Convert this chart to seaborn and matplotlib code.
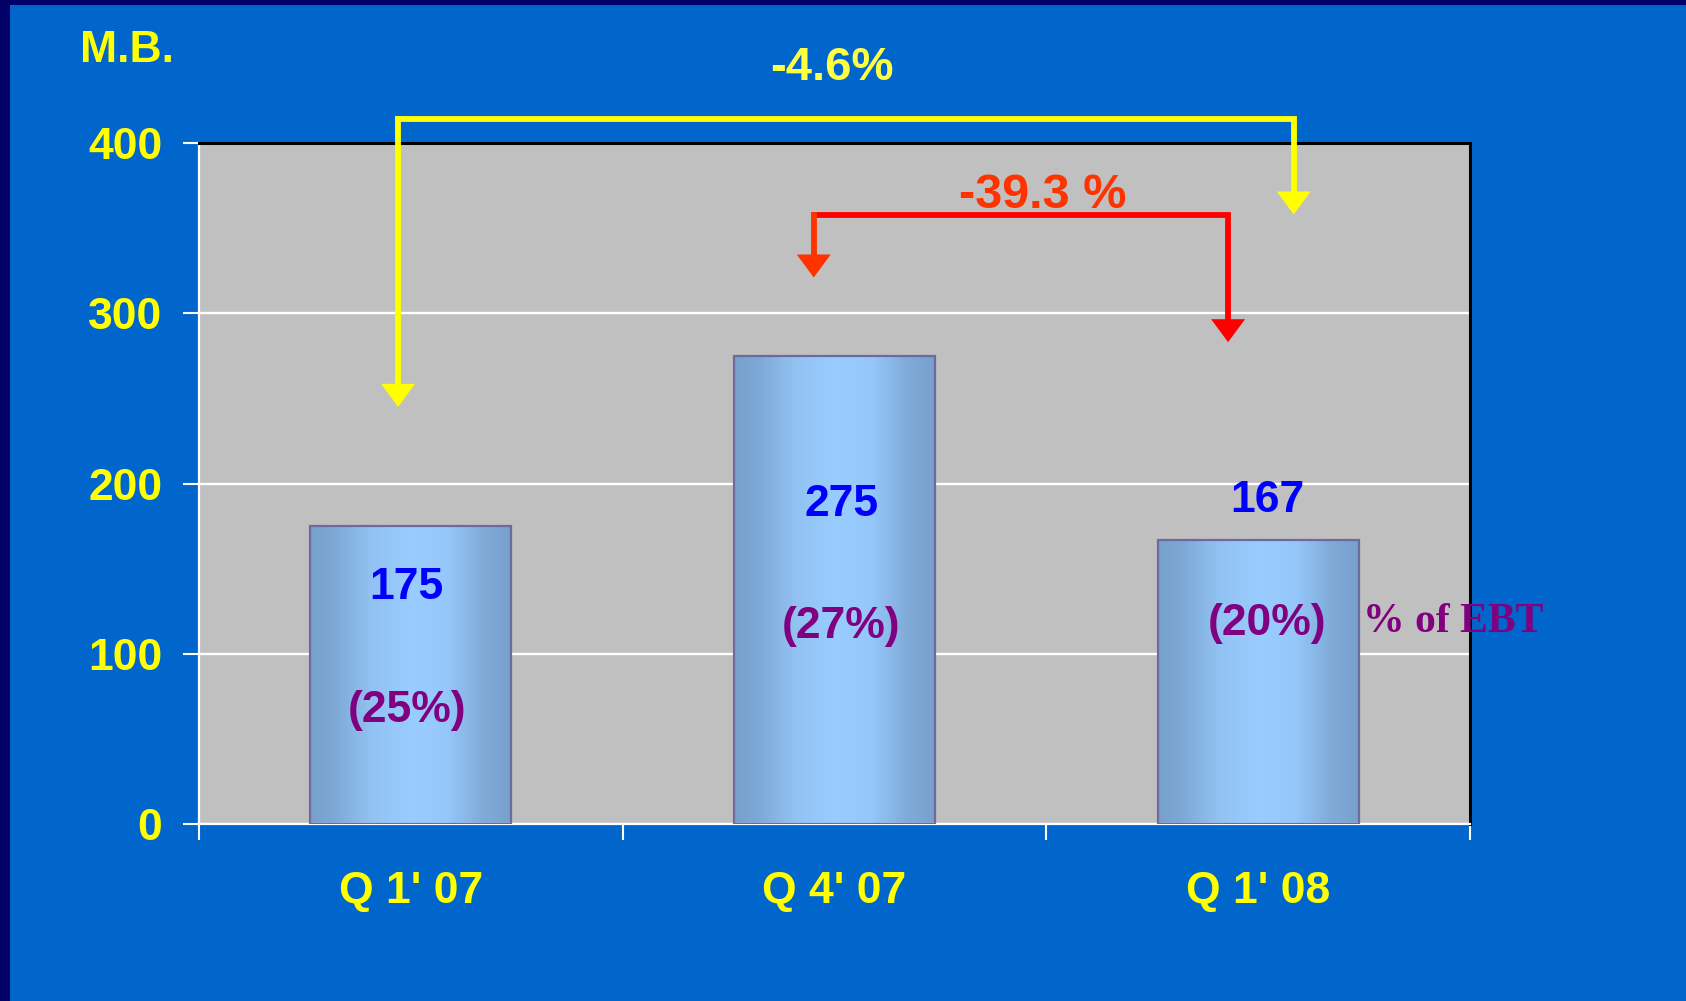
import numpy as np
import pandas as pd
import matplotlib
matplotlib.use("Agg")
import matplotlib.pyplot as plt
import seaborn as sns
from matplotlib.colors import LinearSegmentedColormap
from matplotlib.patches import Rectangle, Polygon
from matplotlib.transforms import ScaledTranslation

# ---------------- data ----------------
categories = ["Q 1' 07", "Q 4' 07", "Q 1' 08"]
values = [175, 275, 167]
value_labels = ["175", "275", "167"]
share_labels = ["(25%)", "(27%)", "(20%)"]
yticks = [0, 100, 200, 300, 400]
unit_label = "M.B."
share_note = "% of EBT"
change_total = "-4.6%"
change_quarter = "-39.3 %"

# ---------------- layout constants ----------------
W, H = 1686, 1001
label_dx = [-0.01, 0.016, 0.022]
value_label_y = [132, 181, 183]
share_label_y = [60, 109, 111]

sns.set_style("white")
plt.rcParams["font.family"] = ["Liberation Sans", "DejaVu Sans"]

fig = plt.figure(figsize=(W / 100, H / 100), dpi=100)
fig.patch.set_facecolor("#000066")
bg = Rectangle((10 / W, 0), 1, 1 - 5 / H, transform=fig.transFigure,
               facecolor="#0066CC", edgecolor="none", zorder=-10)
fig.add_artist(bg)

ax = fig.add_axes([199 / W, 1 - 824 / H, (1470 - 199) / W, (824 - 143) / H])
ax.set_zorder(1)
ax.set_facecolor("#C0C0C0")

df = pd.DataFrame({"quarter": categories, "value": values})
sns.barplot(data=df, x="quarter", y="value", ax=ax, width=0.475, color="#99CCFF",
            edgecolor="#6B6B9E", linewidth=1.6, zorder=3)

# gradient fill inside each bar
cmap = LinearSegmentedColormap.from_list("bar", [
    (0.0, "#78A0CC"), (0.12, "#7DA8D6"), (0.3, "#92C2F2"), (0.5, "#99CCFF"),
    (0.68, "#95C7FA"), (0.86, "#80ABD9"), (1.0, "#78A0CC")])
grad = np.linspace(0, 1, 256).reshape(1, -1)
for p in ax.patches:
    x0, y0, w, h = p.get_x(), p.get_y(), p.get_width(), p.get_height()
    im = ax.imshow(grad, cmap=cmap, aspect="auto", extent=(x0, x0 + w, y0, y0 + h),
                   zorder=2.5, interpolation="bilinear")
    im.set_clip_path(p)
    p.set_facecolor("none")

ax.set_xlim(-0.5, 2.5)
ax.set_ylim(0, 400)
ax.set_aspect("auto")
ax.set_xlabel("")
ax.set_ylabel("")

# ticks
ax.set_yticks(yticks)
ax.set_yticklabels([str(t) for t in yticks])
ax.set_xticks(range(len(categories)))
ax.set_xticklabels(categories)
ax.set_xticks([-0.5, 0.5, 1.5, 2.5], minor=True)
ax.tick_params(axis="x", which="major", length=0, pad=34, labelsize=32,
               labelcolor="#FFFF00", bottom=True)
ax.tick_params(axis="x", which="minor", length=11.5, width=1.5, color="white",
               direction="out", bottom=True)
ax.tick_params(axis="y", length=11.5, width=1.5, color="white", direction="out",
               pad=15, labelsize=32, labelcolor="#FFFF00", left=True)
for lab in ax.get_xticklabels() + ax.get_yticklabels():
    lab.set_fontweight("bold")

ax.yaxis.grid(True, color="white", lw=1.7)
ax.set_axisbelow(True)
for s in ["left", "bottom"]:
    ax.spines[s].set_color("white")
    ax.spines[s].set_linewidth(1.6)
for s in ["top", "right"]:
    ax.spines[s].set_color("black")
    ax.spines[s].set_linewidth(2.2)
    ax.spines[s].set_visible(True)

# labels on bars
for i in range(len(values)):
    ax.text(i + label_dx[i], value_label_y[i], value_labels[i], ha="center", va="baseline",
            color="#0000FF", fontsize=32, fontweight="bold", zorder=5)
    ax.text(i + label_dx[i], share_label_y[i], share_labels[i], ha="center", va="baseline",
            color="#800080", fontsize=32, fontweight="bold", zorder=5)

ax.text(2.247, 113, share_note, ha="left", va="baseline", color="#800080", fontsize=30,
        fontweight="bold", family=["Liberation Serif", "DejaVu Serif"], zorder=10,
        clip_on=False)

fig.text(80 / W, 1 - 62 / H, unit_label, ha="left", va="baseline", color="#FFFF00",
         fontsize=32, fontweight="bold")

# brackets with arrows
ax_h_px = ax.get_window_extent().height
px2data = 400 / ax_h_px
head_w, head_h = 34, 23  # pixels


def head(x, tip, color):
    trans = fig.dpi_scale_trans + ScaledTranslation(x, tip, ax.transData)
    verts = [(-head_w / 200, head_h / 100), (head_w / 200, head_h / 100), (0, 0)]
    ax.add_patch(Polygon(verts, closed=True, transform=trans, facecolor=color,
                         edgecolor="none", clip_on=False, zorder=7))


def bracket(xl, xr, ytop, tipl, tipr, color, color_left=None):
    cl = color_left or color
    base = (head_h - 1) * px2data
    ax.plot([xl, xr, xr], [ytop, ytop, tipr + base], color=color, lw=4.2,
            solid_joinstyle="miter", solid_capstyle="projecting", clip_on=False, zorder=6)
    ax.plot([xl, xl], [ytop, tipl + base], color=cl, lw=4.2,
            solid_capstyle="projecting", clip_on=False, zorder=6)
    head(xl, tipl, cl)
    head(xr, tipr, color)


bracket(-0.030, 2.084, 414, 245, 358, "#FFFF00")
bracket(0.951, 1.929, 357.6, 321, 283, "#FF0000", color_left="#FF3300")

ax.text(0.994, 437, change_total, ha="center", va="baseline", color="#FFFF44",
        fontsize=34, fontweight="bold", clip_on=False, zorder=8)
ax.text(1.492, 362, change_quarter, ha="center", va="baseline", color="#FF3300",
        fontsize=35, fontweight="bold", clip_on=False, zorder=8)

fig.savefig("out.png", dpi=100, facecolor=fig.get_facecolor())
